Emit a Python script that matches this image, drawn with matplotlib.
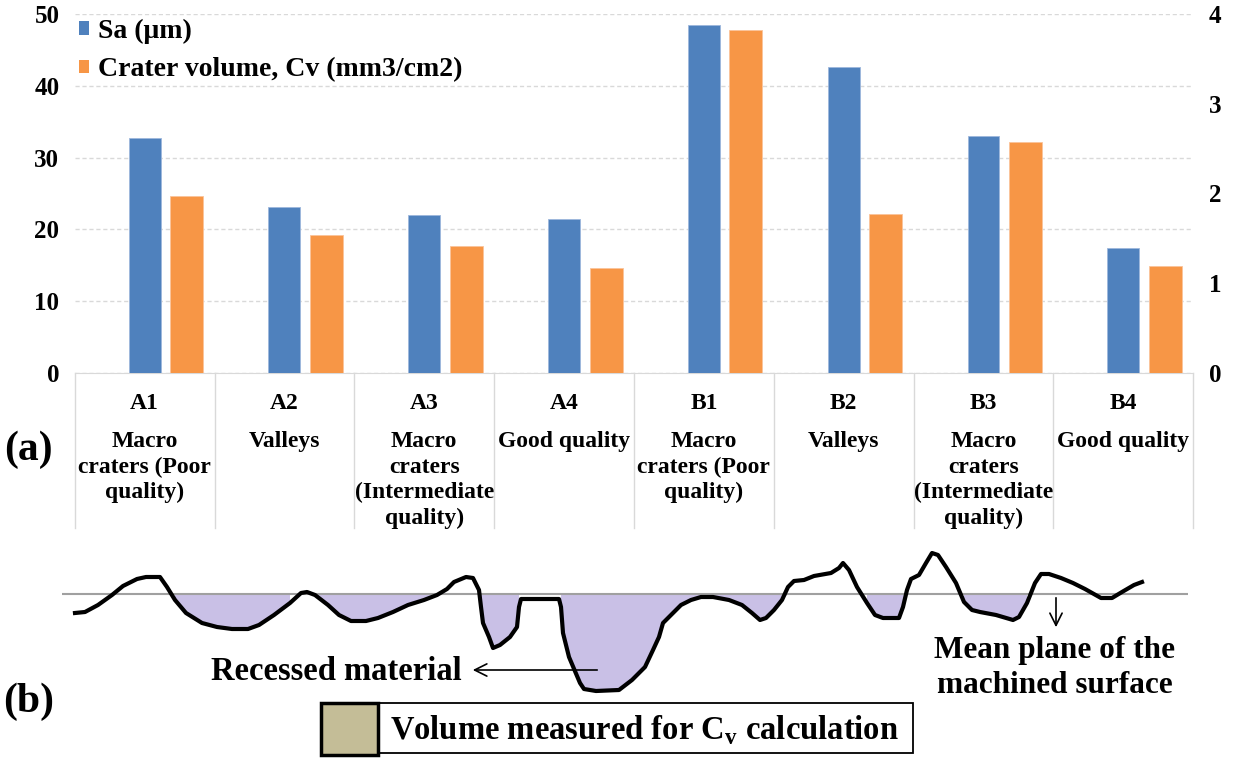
import matplotlib.pyplot as plt
from matplotlib.patches import Patch, Rectangle
import numpy as np

plt.rcParams['font.family'] = 'Liberation Serif'
plt.rcParams['font.weight'] = 'bold'
plt.rcParams['mathtext.fontset'] = 'custom'
plt.rcParams['mathtext.rm'] = 'Liberation Serif:bold'

# (a) roughness and crater volume per sample
samples = ['A1', 'A2', 'A3', 'A4', 'B1', 'B2', 'B3', 'B4']
surfaces = ['Macro\ncraters (Poor\nquality)', 'Valleys',
            'Macro\ncraters\n(Intermediate\nquality)', 'Good quality',
            'Macro\ncraters (Poor\nquality)', 'Valleys',
            'Macro\ncraters\n(Intermediate\nquality)', 'Good quality']
sa = [32.8, 23.15, 22.0, 21.5, 48.5, 42.6, 33.05, 17.4]
cv = [1.97, 1.54, 1.41, 1.17, 3.82, 1.77, 2.57, 1.19]
sa_ticks = [0, 10, 20, 30, 40, 50]
cv_ticks = [0, 1, 2, 3, 4]

# (b) sketch of a machined profile, height relative to the mean plane
prof_x = [75, 85, 98, 112, 123, 137, 146, 160, 167, 175,
          186, 202, 217, 232, 248, 259, 274, 290, 301, 307,
          315, 328, 339, 351, 366, 378, 393, 408, 424, 437,
          447, 454, 466, 473, 479, 481, 483, 489, 493, 500,
          510, 517, 519, 521, 559, 561, 563, 569, 580, 584,
          596, 619, 632, 645, 653, 659, 663, 671, 681, 691,
          701, 713, 729, 742, 752, 760, 766, 774, 782, 788,
          794, 804, 814, 831, 839, 843, 849, 857, 867, 875,
          883, 899, 903, 907, 911, 919, 926, 932, 938, 946,
          956, 964, 972, 980, 996, 1013, 1019, 1027, 1035, 1041,
          1049, 1061, 1073, 1085, 1101, 1112, 1122, 1134, 1142]
prof_z = [-19, -18, -11, -1, 8, 15, 17, 17, 7, -6,
          -19, -29, -33, -35, -35, -31, -21, -9, 1, 2,
          -1, -11, -21, -27, -27, -24, -18, -11, -6, -1,
          5, 12, 17, 16, 4, -13, -29, -43, -54, -51,
          -43, -33, -13, -5, -5, -13, -39, -63, -89, -95,
          -97, -96, -86, -73, -56, -43, -29, -21, -11, -6,
          -3, -3, -6, -11, -19, -26, -24, -16, -6, 7,
          13, 14, 18, 21, 26, 31, 24, 7, -9, -21,
          -24, -24, -13, 4, 15, 19, 31, 41, 39, 27,
          11, -8, -16, -18, -21, -26, -23, -9, 11, 20,
          20, 16, 11, 5, -4, -4, 2, 9, 12]
recessed = [(170, 300), (310, 440), (478, 520), (560, 790), (860, 910), (960, 1032)]

blue = '#4f81bd'
orange = '#f79646'
grid = '#d9d9d9'

fig = plt.figure(figsize=(12.34, 7.6), dpi=100)
ax1 = fig.add_axes([0.06053, 0.50961, 0.90648, 0.47158])
ax2 = ax1.twinx()

x = np.arange(len(samples))
ax1.bar(x, sa, width=0.228, color=blue, edgecolor='#9db7dc', linewidth=0.6, zorder=3)
ax2.bar(x + 0.30, cv, width=0.236, color=orange, edgecolor='#fbc39a', linewidth=0.6, zorder=3)

ax1.set_xlim(-0.5, len(samples) - 0.5)
ax1.set_ylim(0, 50)
ax2.set_ylim(0, 4)
ax1.set_yticks(sa_ticks)
ax2.set_yticks(cv_ticks)
ax1.set_xticks([])
for ax in (ax1, ax2):
    for s in ax.spines.values():
        s.set_visible(False)
    ax.tick_params(axis='y', length=0, pad=11, labelsize=18)
ax1.spines['bottom'].set_visible(True)
ax1.spines['bottom'].set_color(grid)
ax1.yaxis.grid(True, color=grid, linestyle=(0, (3, 2)), linewidth=1)
ax1.set_axisbelow(True)

# category table under the bars
tr = ax1.get_xaxis_transform()
for b in np.arange(len(samples) + 1) - 0.5:
    ax1.plot([b, b], [0, -0.433], transform=tr, color=grid, lw=1, clip_on=False)
for i, (s, d) in enumerate(zip(samples, surfaces)):
    ax1.annotate(s, xy=(i, 0), xycoords=tr, xytext=(0, -22), textcoords='offset points',
                 ha='center', va='center', fontsize=17)
    ax1.annotate(d, xy=(i, 0), xycoords=tr, xytext=(0, -42), textcoords='offset points',
                 ha='center', va='top', fontsize=17, linespacing=1.28)

handles = [Patch(facecolor=blue), Patch(facecolor=orange)]
ax2.legend(handles, ['Sa (\u03bcm)', 'Crater volume, Cv (mm3/cm2)'], loc='upper left',
           bbox_to_anchor=(0.0, 1.0), frameon=False, fontsize=20, handlelength=0.38,
           handleheight=0.38, handletextpad=0.3, labelspacing=0.5, borderpad=0.15,
           borderaxespad=0.0)

fig.text(28 / 1234, 1 - 450 / 760, '(a)', fontsize=30, ha='center', va='center')
fig.text(29 / 1234, 1 - 702 / 760, '(b)', fontsize=30, ha='center', va='center')

# (b) profile sketch
axb = fig.add_axes([0, 0, 1, 220 / 760])
axb.set_xlim(0, 1234)
axb.set_ylim(-166, 54)
axb.axis('off')

px = np.array(prof_x)
pz = np.array(prof_z)
mask = np.zeros(len(px), bool)
for a, b in recessed:
    mask |= (px >= a) & (px <= b)
axb.fill_between(px, np.minimum(pz, 0), 0, where=mask, color='#c9c0e6', lw=0, zorder=1)
axb.hlines(0, 62, 1188, color='#a0a0a0', lw=1.5, zorder=2)
axb.plot(px, pz, color='black', lw=3.0, solid_joinstyle='round', zorder=3)

axb.annotate('', xy=(470, -76), xytext=(600, -76),
             arrowprops=dict(arrowstyle='->', lw=1.2, mutation_scale=22, color='black'))
axb.text(462, -77, 'Recessed material', ha='right', va='center', fontsize=23.5)
axb.annotate('', xy=(1056, -36), xytext=(1056, -1),
             arrowprops=dict(arrowstyle='->', lw=1.2, mutation_scale=22, color='black'))
axb.text(1055, -74, 'Mean plane of the\nmachined surface', ha='center', va='center',
         fontsize=22.5, linespacing=1.3)

axb.add_patch(Rectangle((377.6, -159), 535.8, 50, facecolor='white', edgecolor='black', lw=1.3))
axb.add_patch(Rectangle((321.4, -161), 56.2, 52, facecolor='#c4bd97', edgecolor='black', lw=2.5))
axb.text(390, -136, 'Volume measured for C$_{\\mathrm{v}}$ calculation', ha='left', va='center',
         fontsize=23.5)

fig.savefig('out.png', dpi=100)
